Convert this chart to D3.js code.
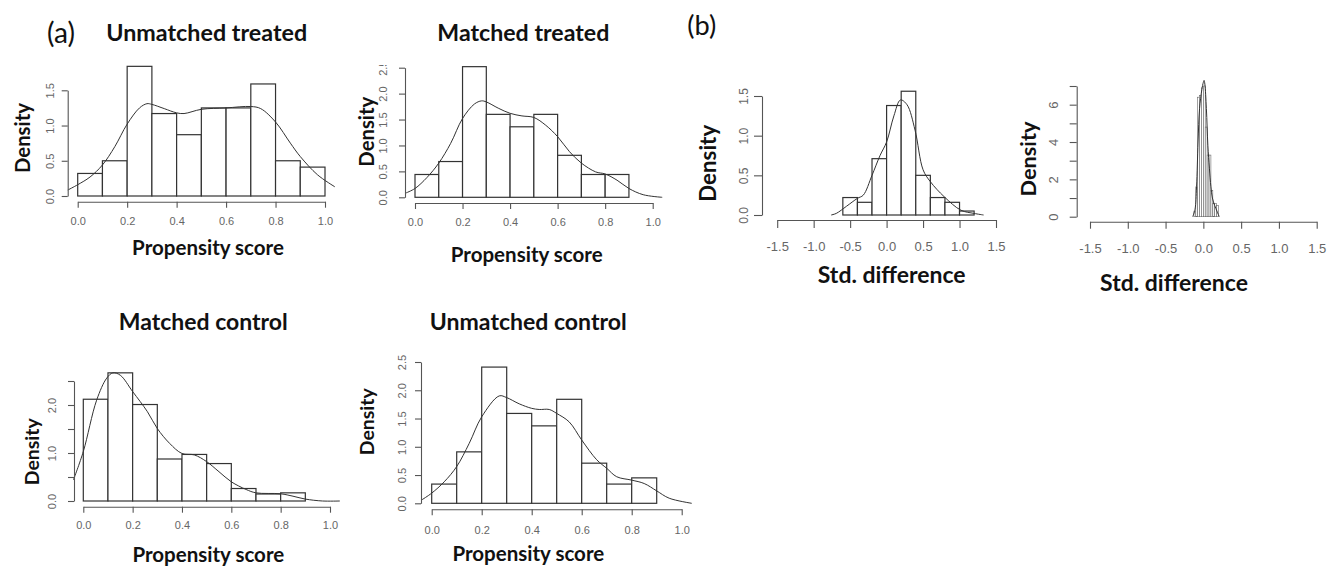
<!DOCTYPE html>
<html>
<head>
<meta charset="utf-8">
<script src="https://cdn.jsdelivr.net/npm/d3@7"></script>
<style>
body { margin: 0; background: #fff; }
</style>
</head>
<body>
<div id="container"></div>
<script>
// ---- data ----
const psBreaks = [0, 0.1, 0.2, 0.3, 0.4, 0.5, 0.6, 0.7, 0.8, 0.9, 1.0]
const psTicks = [0, 0.2, 0.4, 0.6, 0.8, 1.0]

// (a) unmatched treated
const utDensity = [0.32, 0.50, 1.84, 1.17, 0.87, 1.25, 1.25, 1.59, 0.50, 0.41]
const utCurveX = [-0.04, 0.0, 0.05, 0.1, 0.15, 0.2, 0.25, 0.28, 0.3, 0.35, 0.4, 0.43, 0.5, 0.6, 0.7, 0.74, 0.8, 0.86, 0.9, 0.97, 1.04]
const utCurveY = [0.085, 0.16, 0.27, 0.44, 0.70, 1.02, 1.25, 1.31, 1.30, 1.24, 1.18, 1.17, 1.23, 1.25, 1.27, 1.24, 1.05, 0.75, 0.56, 0.30, 0.13]

// (a) matched treated
const mtDensity = [0.44, 0.69, 2.52, 1.60, 1.36, 1.60, 0.81, 0.44, 0.44]
const mtCurveX = [-0.04, 0.0, 0.05, 0.1, 0.15, 0.2, 0.25, 0.28, 0.3, 0.35, 0.4, 0.45, 0.5, 0.55, 0.6, 0.65, 0.7, 0.76, 0.8, 0.85, 0.9, 0.96, 1.04]
const mtCurveY = [0.08, 0.17, 0.38, 0.66, 1.04, 1.52, 1.80, 1.86, 1.84, 1.72, 1.62, 1.57, 1.54, 1.39, 1.17, 0.88, 0.66, 0.49, 0.45, 0.33, 0.17, 0.05, 0.0]

// (a) matched control
const mcDensity = [2.12, 2.67, 2.01, 0.875, 0.97, 0.78, 0.26, 0.146, 0.17]
const mcCurveX = [-0.04, 0.0, 0.054, 0.095, 0.12, 0.15, 0.2, 0.26, 0.3, 0.35, 0.4, 0.45, 0.5, 0.55, 0.6, 0.66, 0.7, 0.8, 0.85, 0.9, 0.97, 1.04]
const mcCurveY = [0.44, 1.03, 2.10, 2.56, 2.67, 2.62, 2.28, 1.86, 1.51, 1.20, 0.99, 0.96, 0.82, 0.61, 0.40, 0.24, 0.17, 0.15, 0.10, 0.04, 0.0, 0.0]

// (a) unmatched control
const ucDensity = [0.34, 0.91, 2.41, 1.59, 1.37, 1.84, 0.71, 0.34, 0.45]
const ucCurveX = [-0.04, 0.0, 0.05, 0.1, 0.15, 0.2, 0.27, 0.3, 0.35, 0.4, 0.43, 0.47, 0.5, 0.55, 0.6, 0.66, 0.7, 0.74, 0.8, 0.85, 0.9, 0.95, 1.04]
const ucCurveY = [0.06, 0.18, 0.38, 0.65, 1.06, 1.53, 1.90, 1.87, 1.76, 1.68, 1.66, 1.66, 1.59, 1.44, 1.12, 0.77, 0.62, 0.47, 0.41, 0.35, 0.22, 0.09, 0.0]

// (b) std. difference, before / after matching
const sdTicks = [-1.5, -1.0, -0.5, 0.0, 0.5, 1.0, 1.5]
const sdBreaksA = [-0.6, -0.4, -0.2, 0.0, 0.2, 0.4, 0.6, 0.8, 1.0, 1.2]
const sdDensityA = [0.22, 0.16, 0.71, 1.38, 1.56, 0.50, 0.22, 0.16, 0.05]
const sdCurveXA = [-0.76, -0.69, -0.55, -0.40, -0.32, -0.2, -0.09, 0.0, 0.1, 0.19, 0.28, 0.39, 0.5, 0.6, 0.79, 1.02, 1.2, 1.33]
const sdCurveYA = [0.0, 0.02, 0.11, 0.21, 0.25, 0.50, 0.75, 0.92, 1.25, 1.45, 1.39, 1.07, 0.57, 0.42, 0.23, 0.06, 0.02, 0.0]

const sdBreaksB = [-0.125, -0.1, -0.075, -0.05, -0.025, 0.0, 0.025, 0.05, 0.075, 0.1, 0.125, 0.15, 0.175, 0.2]
const sdDensityB = [0.3, 1.6, 6.4, 6.5, 6.9, 7.0, 4.8, 3.3, 3.3, 1.4, 0.7, 0.7, 0.6]
const sdCurveXB = [-0.14, -0.11, -0.09, -0.07, -0.05, -0.02, 0.0, 0.01, 0.02, 0.04, 0.06, 0.08, 0.1, 0.12, 0.15, 0.18, 0.21]
const sdCurveYB = [0.0, 0.4, 1.6, 4.0, 5.8, 6.8, 7.2, 7.3, 7.1, 5.8, 3.8, 2.6, 1.6, 1.0, 0.6, 0.3, 0.0]

// ---- layout ----
const panels = [
    { title: "Unmatched treated", t: [206.7, 33, 201], xl: "Propensity score", xlab: [208, 248, 152], ylab: [23, 138, 70],
      xPx: [77.7, 325], xDom: [0, 1], yPx: [196, 90.3], yDom: [0, 1.5], axX: 67.7, axY: 201.7,
      breaks: psBreaks, dens: utDensity, cx: utCurveX, cy: utCurveY,
      xTicks: psTicks, yTicks: [0, 0.5, 1, 1.5], yShow: [0, 0.5, 1, 1.5], dec: 1,
      fsx: 11, fsy: 11, xOff: 19, yOff: 17.7, tick: 6, barW: 1.2 },
    { title: "Matched treated", t: [523.3, 33, 172], xl: "Propensity score", xlab: [526.7, 255, 152], ylab: [366.7, 131.7, 70],
      xPx: [415, 652.7], xDom: [0, 1], yPx: [197.3, 67.7], yDom: [0, 2.5], axX: 405, axY: 203,
      breaks: psBreaks, dens: mtDensity, cx: mtCurveX, cy: mtCurveY,
      xTicks: psTicks, yTicks: [0, 0.5, 1, 1.5, 2, 2.5], yShow: [0, 0.5, 1, 1.5, 2, 2.5], dec: 1,
      fsx: 11, fsy: 11, xOff: 19.5, yOff: 21.7, tick: 6, barW: 1.2, clipTop: 65 },
    { title: "Matched control", t: [203.3, 321.7, 169], xl: "Propensity score", xlab: [208.3, 555, 152], ylab: [31.7, 451.7, 67],
      xPx: [83.3, 330], xDom: [0, 1], yPx: [501, 381], yDom: [0, 2.5], axX: 74, axY: 506.7,
      breaks: psBreaks, dens: mcDensity, cx: mcCurveX, cy: mcCurveY,
      xTicks: psTicks, yTicks: [0, 0.5, 1, 1.5, 2, 2.5], yShow: [0, 1, 2], dec: 1,
      fsx: 11, fsy: 11, xOff: 18.3, yOff: 22.3, tick: 6, barW: 1.2 },
    { title: "Unmatched control", t: [528.3, 321.7, 197], xl: "Propensity score", xlab: [528.3, 553.3, 152], ylab: [367.3, 421.7, 67],
      xPx: [431.7, 681.7], xDom: [0, 1], yPx: [503.3, 362], yDom: [0, 2.5], axX: 421, axY: 509.3,
      breaks: psBreaks, dens: ucDensity, cx: ucCurveX, cy: ucCurveY,
      xTicks: psTicks, yTicks: [0, 0.5, 1, 1.5, 2, 2.5], yShow: [0, 0.5, 1, 1.5, 2, 2.5], dec: 1,
      fsx: 11, fsy: 11, xOff: 20.7, yOff: 19.3, tick: 6, barW: 1.2 },
    { title: null, xl: "Std. difference", xlab: [891.7, 275, 148], ylab: [708.3, 163.3, 77],
      xPx: [777.2, 996], xDom: [-1.5, 1.5], yPx: [215, 96], yDom: [0, 1.5], axX: 762, axY: 220,
      breaks: sdBreaksA, dens: sdDensityA, cx: sdCurveXA, cy: sdCurveYA,
      xTicks: sdTicks, yTicks: [0, 0.5, 1, 1.5], yShow: [0, 0.5, 1, 1.5], dec: 1,
      fsx: 13, fsy: 12, xOff: 26, yOff: 18.7, tick: 8, barW: 1.2 },
    { title: null, xl: "Std. difference", xlab: [1174, 283, 148], ylab: [1028, 159, 75],
      xPx: [1090, 1316.7], xDom: [-1.5, 1.5], yPx: [216.7, 86], yDom: [0, 7], axX: 1076.7, axY: 221.7,
      breaks: sdBreaksB, dens: sdDensityB, cx: sdCurveXB, cy: sdCurveYB,
      xTicks: sdTicks, yTicks: [0, 1, 2, 3, 4, 5, 6, 7], yShow: [0, 2, 4, 6], dec: 0,
      fsx: 13, fsy: 13, xOff: 26.6, yOff: 23.4, tick: 7, barW: 0.6 }
]

const svg = d3.select("#container").append("svg")
    .attr("width", 1327).attr("height", 570)

// scale a label's font so it spans the width seen in the figure
const fitText = (t, w) => {
    t.attr("font-size", 20)
    const len = t.node().getComputedTextLength()
    t.attr("font-size", 20 * w / len)
}

const label = (txt, cx, cy, w, bold, rotate) => {
    const t = svg.append("text")
        .attr("transform", `translate(${cx},${cy})` + (rotate ? " rotate(-90)" : ""))
        .attr("dy", "0.35em")
        .attr("text-anchor", "middle")
        .attr("font-family", "Lato, 'Open Sans', sans-serif")
        .attr("font-weight", bold ? "bold" : "normal")
        .attr("fill", "#111")
        .text(txt)
    fitText(t, w)
    return t
}

const styleAxis = (ax, fs) => {
    ax.select(".domain").attr("stroke", "#555").attr("stroke-width", 1.1)
    ax.selectAll(".tick line").attr("stroke", "#555").attr("stroke-width", 1.1)
    ax.selectAll(".tick text")
        .attr("fill", "#666")
        .attr("font-family", "'Liberation Sans', Arial, sans-serif")
        .attr("font-size", fs)
}

const drawPanel = (p, idx) => {
    const g = svg.append("g")
    const x = d3.scaleLinear().domain(p.xDom).range(p.xPx)
    const y = d3.scaleLinear().domain(p.yDom).range(p.yPx)

    g.selectAll("rect").data(p.dens).join("rect")
        .attr("x", (d, i) => x(p.breaks[i]))
        .attr("width", (d, i) => x(p.breaks[i + 1]) - x(p.breaks[i]))
        .attr("y", d => y(d))
        .attr("height", d => y(0) - y(d))
        .attr("fill", "white")
        .attr("stroke", p.barW < 1 ? "#666" : "#333")
        .attr("stroke-width", p.barW)

    const line = d3.line()
        .x(d => x(d[0]))
        .y(d => y(d[1]))
        .curve(d3.curveCatmullRom)
    g.append("path")
        .attr("d", line(d3.zip(p.cx, p.cy)))
        .attr("fill", "none")
        .attr("stroke", "#333")
        .attr("stroke-width", 1)

    // x axis
    const xa = g.append("g")
        .attr("transform", `translate(0,${p.axY})`)
        .call(d3.axisBottom(x).tickValues(p.xTicks).tickSize(p.tick).tickSizeOuter(0)
            .tickFormat(d => d.toFixed(1)))
    styleAxis(xa, p.fsx)
    xa.selectAll(".tick text").attr("y", p.xOff).attr("dy", "0.35em")

    // y axis, rotated labels like R
    const wrap = g.append("g")
    if (p.clipTop) {
        const id = "clip" + idx
        svg.append("clipPath").attr("id", id)
            .append("rect").attr("x", 0).attr("y", p.clipTop).attr("width", 1327).attr("height", 570)
        wrap.attr("clip-path", `url(#${id})`)
    }
    const ya = wrap.append("g")
        .attr("transform", `translate(${p.axX},0)`)
        .call(d3.axisLeft(y).tickValues(p.yTicks).tickSize(p.tick).tickSizeOuter(0)
            .tickFormat(d => p.yShow.includes(d) ? d.toFixed(p.dec) : ""))
    styleAxis(ya, p.fsy)
    ya.selectAll(".tick text")
        .attr("x", 0).attr("dy", "0.35em")
        .attr("text-anchor", "middle")
        .attr("transform", `translate(${-p.yOff},0) rotate(-90)`)

    if (p.title) label(p.title, p.t[0], p.t[1], p.t[2], true, false)
    label(p.xl, p.xlab[0], p.xlab[1], p.xlab[2], true, false)
    label("Density", p.ylab[0], p.ylab[1], p.ylab[2], true, true)
}

panels.forEach(drawPanel)

label("(a)", 61, 33, 28, false, false)
label("(b)", 701.7, 25, 29, false, false)
</script>
</body>
</html>
